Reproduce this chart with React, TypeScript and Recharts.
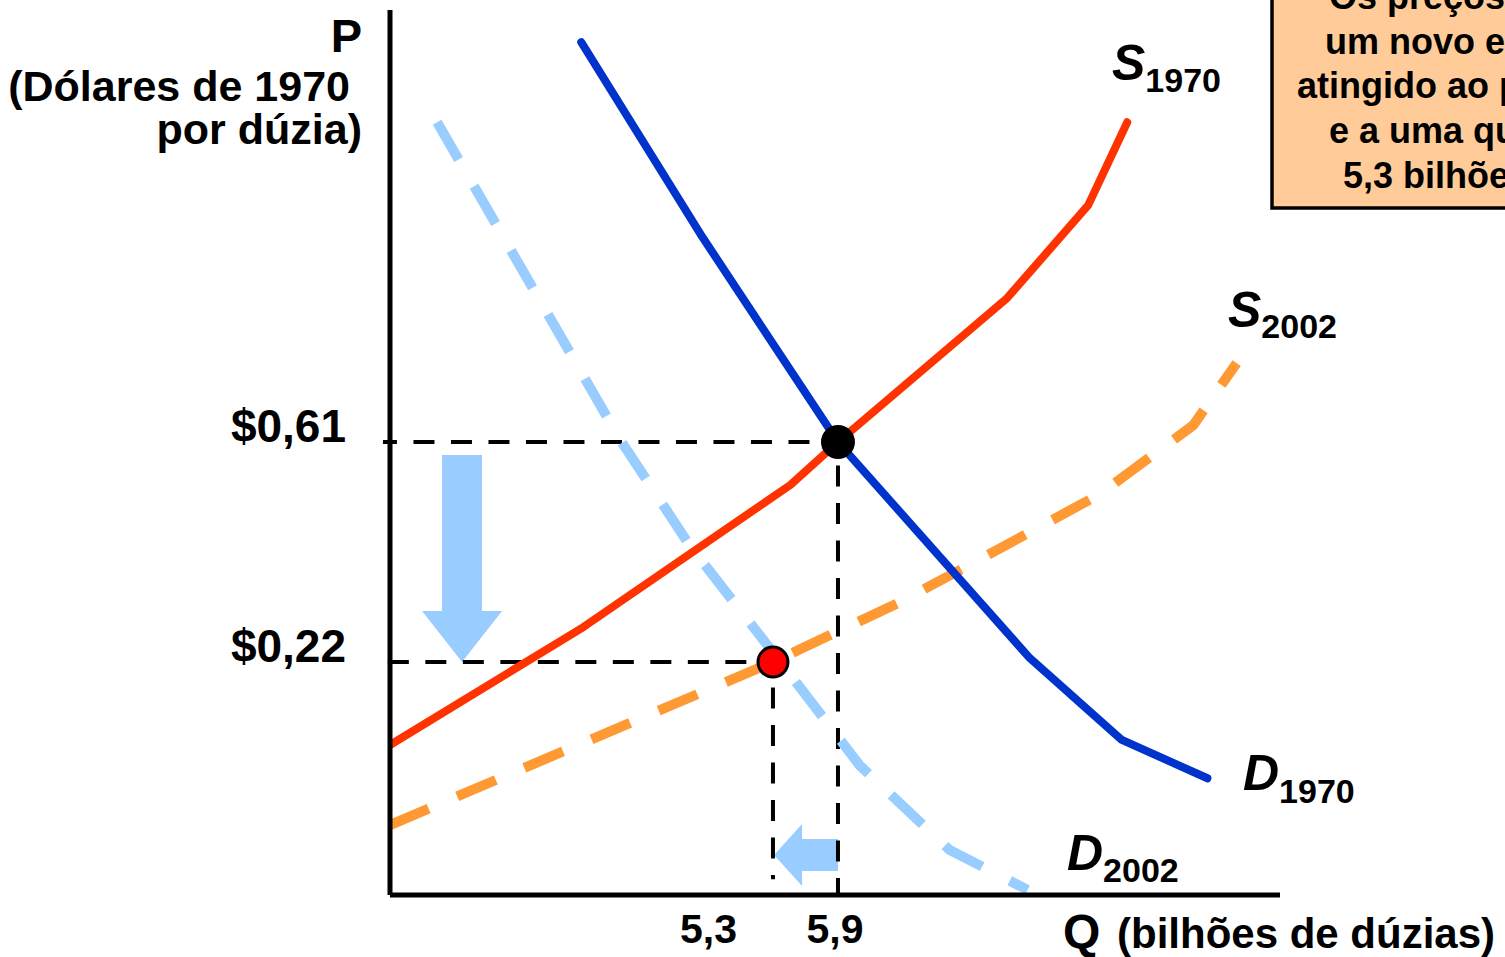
import React from 'react';
import { LineChart, Line, XAxis, YAxis, ReferenceLine, ReferenceDot } from 'recharts';

const FONT = '"Liberation Sans", Arial, Helvetica, sans-serif';

// Q = bilhões de dúzias, P = dólares de 1970 por dúzia
const qTicks = [5.3, 5.9];
const qTickLabels = ['5,3', '5,9'];
const pTicks = [0.22, 0.61];
const pTickLabels = ['$0,22', '$0,61'];

const qDomain = [1.765, 9.98];
const pDomain = [-0.193, 1.376];

const d1970 = [
  { q: 3.53, p: 1.319 },
  { q: 4.65, p: 0.973 },
  { q: 5.9, p: 0.61 },
  { q: 7.67, p: 0.227 },
  { q: 8.52, p: 0.082 },
  { q: 9.31, p: 0.014 },
];

const s1970 = [
  { q: 1.765, p: 0.073 },
  { q: 3.55, p: 0.282 },
  { q: 5.46, p: 0.534 },
  { q: 5.9, p: 0.61 },
  { q: 7.46, p: 0.865 },
  { q: 8.21, p: 1.03 },
  { q: 8.57, p: 1.177 },
];

const s2002 = [
  { q: 1.765, p: -0.069 },
  { q: 5.3, p: 0.22 },
  { q: 6.47, p: 0.326 },
  { q: 7.4, p: 0.422 },
  { q: 8.32, p: 0.518 },
  { q: 9.18, p: 0.64 },
  { q: 9.58, p: 0.75 },
];

const d2002 = [
  { q: 2.2, p: 1.177 },
  { q: 3.89, p: 0.614 },
  { q: 4.53, p: 0.427 },
  { q: 5.37, p: 0.22 },
  { q: 6.1, p: 0.037 },
  { q: 6.93, p: -0.113 },
  { q: 7.65, p: -0.184 },
];

// equilibria
const eq1970 = { q: 5.9, p: 0.61 };
const eq2002 = { q: 5.3, p: 0.22 };

// shift arrows (start -> tip)
const priceArrow = [{ x: 2.43, y: 0.587 }, { x: 2.43, y: 0.22 }];
const qtyArrow = [{ x: 5.9, y: -0.122 }, { x: 5.31, y: -0.122 }];

const boxLines = [
  'Os preços caíram para',
  'um novo equilíbrio que',
  'atingido ao preço de $0,22',
  'e a uma quantidade de',
  '5,3 bilhões de dúzias',
];

const arrowShape = (shaftHalf: number, headHalf: number, headLen: number) => (props: any) => {
  const { x1, y1, x2, y2 } = props;
  const dx = x2 - x1;
  const dy = y2 - y1;
  const len = Math.sqrt(dx * dx + dy * dy) || 1;
  const ux = dx / len;
  const uy = dy / len;
  const nx = -uy;
  const ny = ux;
  const bx = x2 - ux * headLen;
  const by = y2 - uy * headLen;
  const pts = [
    [x1 + nx * shaftHalf, y1 + ny * shaftHalf],
    [bx + nx * shaftHalf, by + ny * shaftHalf],
    [bx + nx * headHalf, by + ny * headHalf],
    [x2, y2],
    [bx - nx * headHalf, by - ny * headHalf],
    [bx - nx * shaftHalf, by - ny * shaftHalf],
    [x1 - nx * shaftHalf, y1 - ny * shaftHalf],
  ];
  return <polygon points={pts.map((p) => p.join(',')).join(' ')} fill="#99CCFF" stroke="none" />;
};

const XTick = (props: any) => {
  const { x, y, payload } = props;
  const i = qTicks.indexOf(payload.value);
  const first = i === 0;
  return (
    <text
      x={first ? x - 36 : x - 3}
      y={y + 48}
      textAnchor={first ? 'end' : 'middle'}
      fontFamily={FONT}
      fontWeight="bold"
      fontSize={41}
      fill="#000"
    >
      {qTickLabels[i]}
    </text>
  );
};

const YTick = (props: any) => {
  const { x, y, payload } = props;
  const i = pTicks.indexOf(payload.value);
  return (
    <text x={x} y={y} textAnchor="end" fontFamily={FONT} fontWeight="bold" fontSize={46} fill="#000">
      {pTickLabels[i]}
    </text>
  );
};

const Sub = ({ x, y, main, sub, dy }: { x: number; y: number; main: string; sub: string; dy: number }) => (
  <text x={x} y={y} fontFamily={FONT} fontWeight="bold" fill="#000">
    <tspan fontSize={50} fontStyle="italic">{main}</tspan>
    <tspan fontSize={34} dy={dy}>{sub}</tspan>
  </text>
);

export default function App() {
  return (
    <div style={{ position: 'absolute', left: 0, top: 0, width: 1505, height: 957, background: '#fff' }}>
      <LineChart width={1505} height={957} margin={{ top: 10, right: 225, bottom: 22, left: 330 }}>
        <XAxis
          type="number"
          dataKey="q"
          domain={qDomain}
          ticks={qTicks}
          allowDataOverflow
          height={40}
          axisLine={{ stroke: '#000', strokeWidth: 5 }}
          tickLine={false}
          tickSize={0}
          tickMargin={0}
          tick={(p: any) => <XTick {...p} />}
        />
        <YAxis
          type="number"
          dataKey="p"
          domain={pDomain}
          ticks={pTicks}
          allowDataOverflow
          width={60}
          axisLine={{ stroke: '#000', strokeWidth: 5 }}
          tickLine={false}
          tickSize={0}
          tickMargin={44}
          tick={(p: any) => <YTick {...p} />}
        />

        <ReferenceLine segment={priceArrow} ifOverflow="visible" shape={arrowShape(20, 40, 51)} />
        <ReferenceLine segment={qtyArrow} ifOverflow="visible" shape={arrowShape(16, 31, 28)} />

        <ReferenceLine
          segment={[{ x: 1.70, y: eq1970.p }, { x: eq1970.q, y: eq1970.p }]}
          ifOverflow="visible"
          stroke="#000"
          strokeWidth={4}
          strokeDasharray="21 16.5"
          strokeDashoffset={7}
        />
        <ReferenceLine
          segment={[{ x: eq1970.q, y: eq1970.p }, { x: eq1970.q, y: pDomain[0] }]}
          ifOverflow="visible"
          stroke="#000"
          strokeWidth={4}
          strokeDasharray="21 16.5"
          strokeDashoffset={14}
        />
        <ReferenceLine
          segment={[{ x: qDomain[0] - 0.02, y: eq2002.p }, { x: eq2002.q, y: eq2002.p }]}
          ifOverflow="visible"
          stroke="#000"
          strokeWidth={4}
          strokeDasharray="21 16.5"
        />
        <ReferenceLine
          segment={[{ x: eq2002.q, y: eq2002.p }, { x: eq2002.q, y: -0.165 }]}
          ifOverflow="visible"
          stroke="#000"
          strokeWidth={4}
          strokeDasharray="21 16.5"
          strokeDashoffset={12}
        />

        <Line
          data={d2002}
          dataKey="p"
          type="linear"
          stroke="#99CCFF"
          strokeWidth={10}
          strokeDasharray="43 31"
          dot={false}
          activeDot={false}
          isAnimationActive={false}
        />
        <Line
          data={s2002}
          dataKey="p"
          type="linear"
          stroke="#FF9933"
          strokeWidth={10}
          strokeDasharray="42 31"
          dot={false}
          activeDot={false}
          isAnimationActive={false}
        />
        <Line
          data={d1970}
          dataKey="p"
          type="linear"
          stroke="#0033CC"
          strokeWidth={8}
          strokeLinecap="round"
          strokeLinejoin="round"
          dot={false}
          activeDot={false}
          isAnimationActive={false}
        />
        <Line
          data={s1970}
          dataKey="p"
          type="linear"
          stroke="#FF3300"
          strokeWidth={8}
          strokeLinecap="round"
          strokeLinejoin="round"
          dot={false}
          activeDot={false}
          isAnimationActive={false}
        />

        <ReferenceDot x={eq1970.q} y={eq1970.p} r={17} fill="#000" stroke="none" ifOverflow="visible" />
        <ReferenceDot x={eq2002.q} y={eq2002.p} r={15} fill="#FF0000" stroke="#000" strokeWidth={3} ifOverflow="visible" />
      </LineChart>

      <svg
        width={1505}
        height={957}
        style={{ position: 'absolute', left: 0, top: 0, pointerEvents: 'none', overflow: 'hidden' }}
      >
        <g fontFamily={FONT} fontWeight="bold" fill="#000">
          <text x={362} y={52} fontSize={47} textAnchor="end">P</text>
          <text x={350} y={101} fontSize={43} textAnchor="end">(Dólares de 1970</text>
          <text x={362} y={144} fontSize={43} textAnchor="end">por dúzia)</text>
          <text x={1063} y={948}>
            <tspan fontSize={48}>Q</tspan>
            <tspan x={1117} fontSize={42}>(bilhões de dúzias)</tspan>
          </text>
        </g>
        <Sub x={1112} y={80} main="S" sub="1970" dy={12} />
        <Sub x={1228} y={327} main="S" sub="2002" dy={11} />
        <Sub x={1243} y={790} main="D" sub="1970" dy={13} />
        <Sub x={1067} y={870} main="D" sub="2002" dy={12} />

        <rect x={1272} y={-10} width={300} height={218} fill="#FFCC99" stroke="#000" strokeWidth={3.5} />
        <g fontFamily={FONT} fontWeight="bold" fontSize={36} fill="#000" textAnchor="middle">
          {boxLines.map((t, i) => (
            <text key={i} x={1523} y={9 + i * 44.7}>{t}</text>
          ))}
        </g>
      </svg>
    </div>
  );
}
